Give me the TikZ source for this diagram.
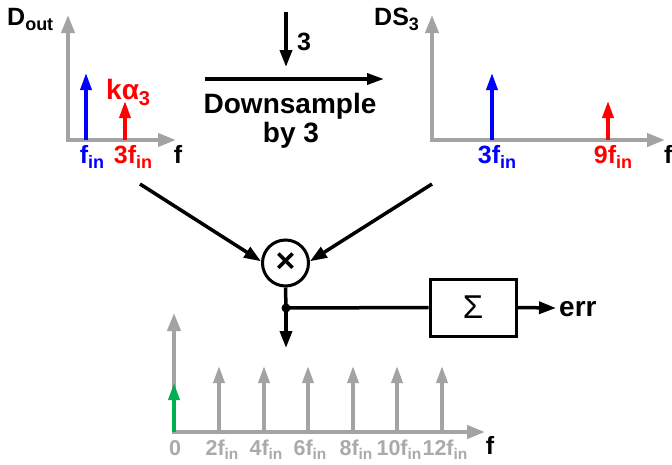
\documentclass[tikz,border=0pt]{standalone}
\usepackage{graphicx}
\usepackage{fontspec}
\setmainfont{Liberation Sans}
\usetikzlibrary{arrows.meta}
\definecolor{axgray}{RGB}{163,163,163}
\definecolor{lblgray}{RGB}{170,170,170}
\definecolor{sigblue}{RGB}{0,0,255}
\definecolor{sigred}{RGB}{255,0,0}
\definecolor{siggreen}{RGB}{0,176,80}
\newcommand{\lsub}[1]{\raisebox{-0.22em}{\scalebox{0.72}{#1}}}
\begin{document}
\begin{tikzpicture}[x=1pt,y=-1pt,
  axis/.style={draw=axgray, line width=4pt, line join=miter,
    {Triangle[length=18pt,width=13pt]}-{Triangle[length=18pt,width=13pt]}},
  spike/.style={line width=3.5pt, -{Triangle[length=17pt,width=11pt]}},
  wire/.style={draw=black, line width=3.5pt},
  warrow/.style={wire, -{Triangle[length=17pt,width=12pt]}},
  lbl/.style={font=\fontsize{25}{28}\selectfont\bfseries, inner sep=0pt},
  big/.style={font=\fontsize{28}{30}\selectfont\bfseries, inner sep=0pt},
  small/.style={font=\fontsize{21.5}{24}\selectfont\bfseries, inner sep=0pt, text=lblgray}]
\useasboundingbox (0,0) rectangle (672,464);

% ---------- left spectrum ----------
\coordinate (LY) at (68,15);
\coordinate (LO) at (68,140);
\coordinate (LX) at (176,140);
\draw[axis] (LY) -- (LO) -- (LX);
\coordinate (lb0) at (86,140);  \coordinate (lb1) at (86,73);
\coordinate (lr0) at (125,140); \coordinate (lr1) at (125,101);
\draw[spike, sigblue] (lb0) -- (lb1);
\draw[spike, sigred] (lr0) -- (lr1);
\node[lbl, anchor=base west] (dout) at (7,25) {D\lsub{out}};
\node[big, text=sigred, anchor=base west] (ka) at (106,99) {kα\lsub{3}};
\node[lbl, text=sigblue, anchor=base] (lfin) at (92,163) {f\lsub{in}};
\node[lbl, text=sigred, anchor=base] (l3fin) at (133,163) {3f\lsub{in}};
\node[lbl, anchor=base] (lf) at (178,163) {f};

% ---------- downsample ----------
\coordinate (d3s) at (286,12);
\coordinate (d3e) at (286,67);
\draw[warrow] (d3s) -- (d3e);
\node[lbl] (three) at (304,42) {3};
\coordinate (dsa) at (205,79);
\coordinate (dsb) at (384,79);
\draw[wire, -{Triangle[length=17pt,width=11pt]}] (dsa) -- (dsb);
\node[big, anchor=base] (ds1) at (290,113) {Downsample};
\node[big, anchor=base] (ds2) at (291,142) {by 3};

% ---------- right spectrum ----------
\coordinate (RY) at (432,15);
\coordinate (RO) at (432,140);
\coordinate (RX) at (665,140);
\draw[axis] (RY) -- (RO) -- (RX);
\coordinate (rb0) at (492,140); \coordinate (rb1) at (492,73);
\coordinate (rr0) at (608,140); \coordinate (rr1) at (608,101);
\draw[spike, sigblue] (rb0) -- (rb1);
\draw[spike, sigred] (rr0) -- (rr1);
\node[lbl, anchor=base west] (ds3) at (374,25) {DS\lsub{3}};
\node[lbl, text=sigblue, anchor=base] (r3fin) at (497,163) {3f\lsub{in}};
\node[lbl, text=sigred, anchor=base] (r9fin) at (613,163) {9f\lsub{in}};
\node[lbl, anchor=base west] (rf) at (664,163) {f};

% ---------- mixer ----------
\node[circle, draw, line width=3pt, minimum size=46pt, inner sep=0pt,
      font=\fontsize{34}{34}\selectfont\bfseries] (mx) at (285.5,263) {×};
\coordinate (lin) at (140,184);
\coordinate (rin) at (432,184);
\draw[warrow] (lin) -- (mx.176);
\draw[warrow] (rin) -- (mx.4);
\node[circle, fill=black, inner sep=0pt, minimum size=9pt] (jd) at (286,308) {};
\draw[wire] (mx.south) -- (jd.center);
\coordinate (outd) at (286,348);
\draw[warrow] (jd.center) -- (outd);
\node[draw, line width=3pt, minimum width=86pt, minimum height=57pt, inner sep=0pt,
      font=\fontsize{33}{33}\selectfont] (sm) at (473,307.5) {Σ};
\draw[wire] (jd.center) -- (sm.west);
\coordinate (erra) at (556,308);
\draw[warrow] (sm.east) -- (erra);
\node[big, anchor=west] (err) at (559,309) {err};

% ---------- bottom spectrum ----------
\coordinate (BY) at (174,313);
\coordinate (BO) at (174,432);
\coordinate (BX) at (485,432);
\draw[axis] (BY) -- (BO) -- (BX);
\coordinate (g0) at (174,432); \coordinate (g1) at (174,383);
\draw[spike, siggreen] (g0) -- (g1);
\foreach \xx/\nm in {219/a,264/b,308/c,353/d,397/e,442/f}{
  \coordinate (s\nm0) at (\xx,432);
  \coordinate (s\nm1) at (\xx,366);
  \draw[spike, axgray] (s\nm0) -- (s\nm1);
}
\node[small, anchor=base] (t0) at (175,455) {0};
\node[small, anchor=base] (t2) at (222,455) {2f\lsub{in}};
\node[small, anchor=base] (t4) at (266,455) {4f\lsub{in}};
\node[small, anchor=base] (t6) at (310,455) {6f\lsub{in}};
\node[small, anchor=base] (t8) at (356,455) {8f\lsub{in}};
\node[small, anchor=base] (t10) at (399,455) {10f\lsub{in}};
\node[small, anchor=base] (t12) at (445,455) {12f\lsub{in}};
\node[lbl, font=\fontsize{25}{28}\selectfont\bfseries, anchor=base] (bf) at (490,454) {f};
\end{tikzpicture}
\end{document}
